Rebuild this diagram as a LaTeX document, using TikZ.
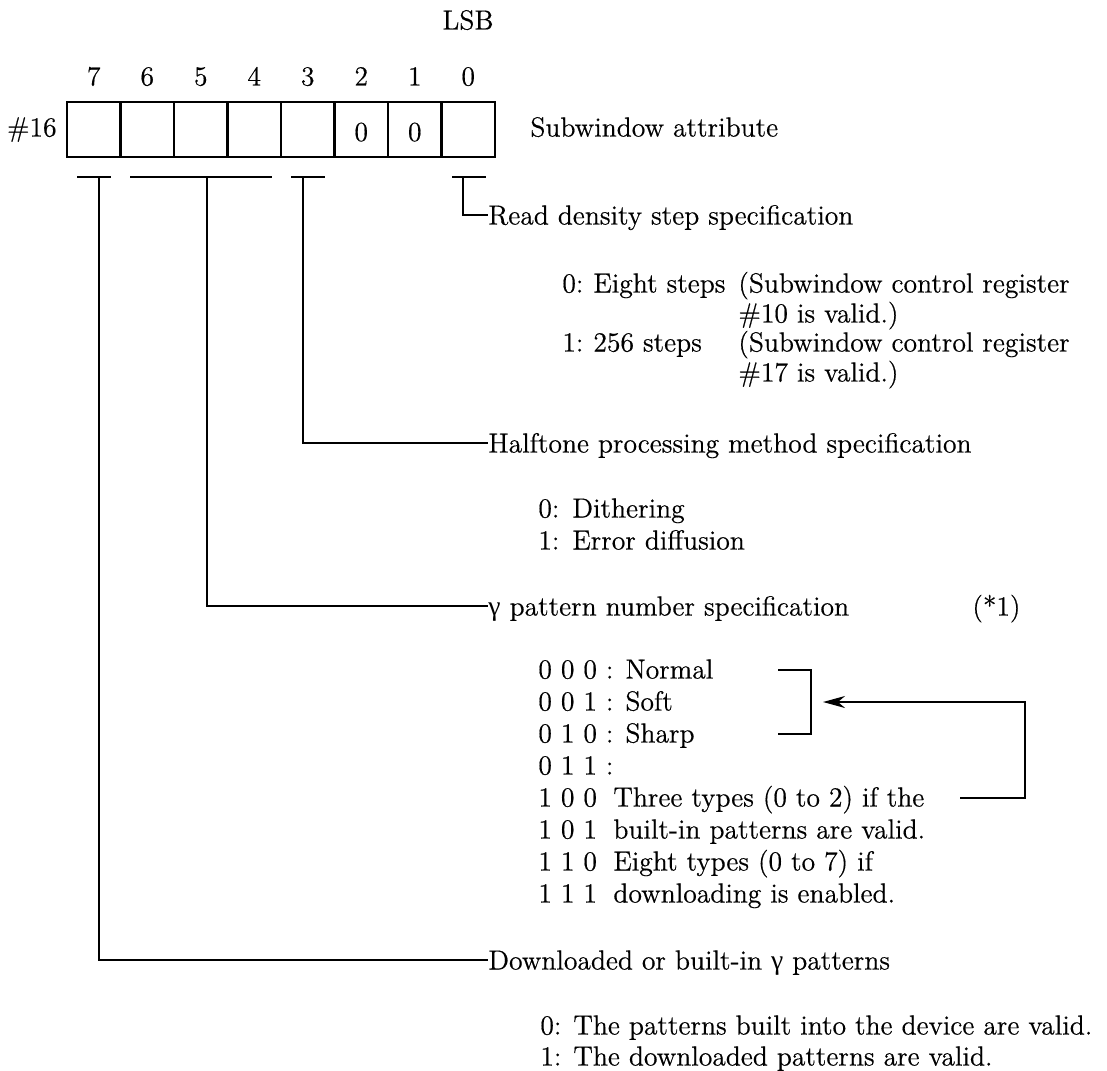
\documentclass[tikz,border=0pt]{standalone}
\usepackage{fontspec}
\setmainfont{Latin Modern Roman}[FakeBold=0.5]
\newfontfamily\gmfont{Liberation Serif}
\usetikzlibrary{arrows.meta}
\newcommand\gm{{\gmfont γ}}

\begin{document}
\begin{tikzpicture}[
  x=0.5pt, y=-0.5pt,
  every node/.style={font=\fontsize{13.8}{16}\selectfont, inner sep=0pt,
    text height=11.6pt, text depth=2.1pt},
  lbl/.style={anchor=west},
  cellbox/.style={draw, line width=1.1pt, minimum width=26.75pt,
    minimum height=27.5pt, text height=, text depth=},
  bar/.style={line width=1.1pt},
  conn/.style={line width=0.9pt},
]
\useasboundingbox (0,0) rectangle (1107,1070);

% register header
\node (lsb) at (468,20) {LSB};
\foreach \b in {0,...,7}{
  \node (d\b) at ({67+26.75+53.5*(7-\b)},76) {\b};
  \node[cellbox] (c\b) at ({67+26.75+53.5*(7-\b)},129.5) {};
}
\node at (c2.center) [yshift=-1pt] {0};
\node at (c1.center) [yshift=-1pt] {0};
\node[anchor=east] (reg) at (57,127) {\#16};
\node[lbl] (sub) at (530,127) {Subwindow attribute};

% bit-field markers
\coordinate (b7a) at (77,177);  \coordinate (b7b) at (111,177);
\coordinate (b6a) at (130,177); \coordinate (b4b) at (272,177);
\coordinate (b3a) at (291,177); \coordinate (b3b) at (325,177);
\coordinate (b0a) at (452,177); \coordinate (b0b) at (486,177);
\draw[bar] (b7a) -- (b7b);
\draw[bar] (b6a) -- (b4b);
\draw[bar] (b3a) -- (b3b);
\draw[bar] (b0a) -- (b0b);
\coordinate (v7) at (99,177);
\coordinate (v64) at (207,177);
\coordinate (v3) at (303,177);
\coordinate (v0) at (463,177);

% bit 0
\node[lbl] (rd) at (488,215) {Read density step specification};
\node[lbl] at (562,283) {0:};
\node[lbl] at (593,283) {Eight steps};
\node[lbl] at (738,283) {(Subwindow control register};
\node[lbl] at (738,313) {\#10 is valid.)};
\node[lbl] at (562,342) {1:};
\node[lbl] at (593,342) {256 steps};
\node[lbl] at (738,342) {(Subwindow control register};
\node[lbl] at (738,372) {\#17 is valid.)};

% bit 3
\node[lbl] (ht) at (488,443) {Halftone processing method specification};
\node[lbl] at (538,508) {0:};
\node[lbl] at (572,508) {Dithering};
\node[lbl] at (538,540) {1:};
\node[lbl] at (572,540) {Error diffusion};

% bits 6-4
\node[lbl] (gp) at (488,606) {\gm\ pattern number specification};
\node[lbl] (note) at (972,606) {(*1)};
\node[lbl] (p0) at (538,669) {0 0 0 : Normal};
\node[lbl] (p1) at (538,701) {0 0 1 : Soft};
\node[lbl] (p2) at (538,733) {0 1 0 : Sharp};
\node[lbl] (p3) at (538,765) {0 1 1 :};
\node[lbl] (p4) at (538,797) {1 0 0};
\node[lbl] (p5) at (538,829) {1 0 1};
\node[lbl] (p6) at (538,861) {1 1 0};
\node[lbl] (p7) at (538,893) {1 1 1};
\node[lbl] (q4) at (613,797) {Three types (0 to 2) if the};
\node[lbl] (q5) at (613,829) {built-in patterns are valid.};
\node[lbl] (q6) at (613,861) {Eight types (0 to 7) if};
\node[lbl] (q7) at (613,893) {downloading is enabled.};

% bracket and return arrow
\coordinate (br1) at (778,670);
\coordinate (br2) at (811,670);
\coordinate (br3) at (811,734);
\coordinate (br4) at (778,734);
\draw[conn] (br1) -- (br2) -- (br3) -- (br4);
\coordinate (fb0) at (960,798);
\coordinate (fb1) at (1025,798);
\coordinate (fb2) at (1025,702);
\coordinate (tip) at (823,702);
\draw[conn, -{Stealth[length=11pt, width=6pt, inset=3.5pt]}]
  (fb0) -- (fb1) -- (fb2) -- (tip);

% bit 7
\node[lbl] (dl) at (488,960) {Downloaded or built-in \gm\ patterns};
\node[lbl] at (540,1025) {0:};
\node[lbl] at (573,1025) {The patterns built into the device are valid.};
\node[lbl] at (540,1056) {1:};
\node[lbl] at (573,1056) {The downloaded patterns are valid.};

% leaders from the markers to their descriptions
\draw[conn] (v0) |- (rd.west);
\draw[conn] (v3) |- (ht.west);
\draw[conn] (v64) |- (gp.west);
\draw[conn] (v7) |- (dl.west);
\end{tikzpicture}
\end{document}
